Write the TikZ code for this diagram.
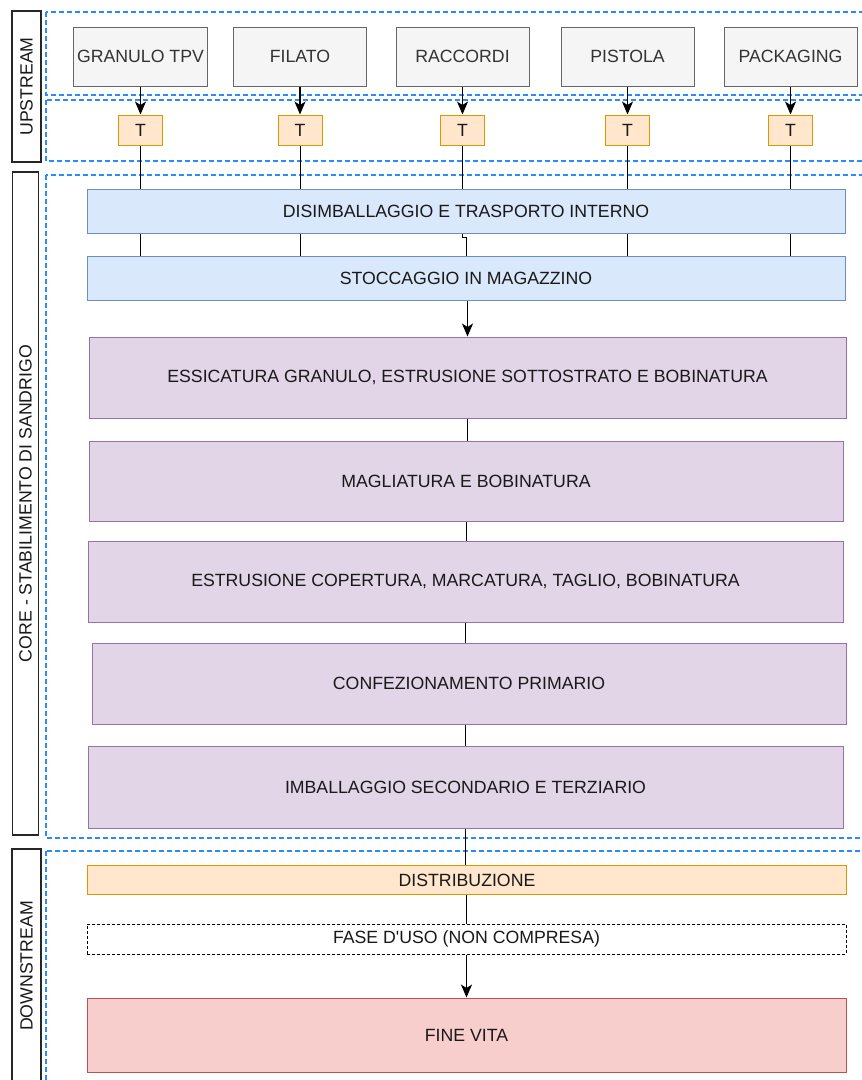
\documentclass[tikz,border=0pt]{standalone}
\usepackage{fontspec}
\setmainfont{Liberation Sans}
\usepackage{tikz}
\usetikzlibrary{arrows.meta,positioning}
\definecolor{bandblue}{RGB}{40,140,255}
\definecolor{srcfill}{HTML}{F5F5F5}
\definecolor{srcdraw}{HTML}{666666}
\definecolor{tfill}{HTML}{FFE6CC}
\definecolor{tdraw}{HTML}{D79B00}
\definecolor{bluefill}{HTML}{DAE8FC}
\definecolor{bluedraw}{HTML}{6C8EBF}
\definecolor{violetfill}{HTML}{E1D5E7}
\definecolor{violetdraw}{HTML}{9673A6}
\definecolor{redfill}{HTML}{F8CECC}
\definecolor{reddraw}{HTML}{B85450}
\tikzset{phase/.style = {draw, text centered, font=\fontsize{17.7}{21}\selectfont, text=black!90, line width=1pt}}
\tikzset{source/.style = {phase, fill=srcfill, draw=srcdraw, minimum width=133, minimum height=59, text=black!80}}
\tikzset{transport/.style = {phase, fill=tfill, draw=tdraw, minimum width=44, minimum height=30}}
\tikzset{stockbox/.style = {phase, fill=bluefill, draw=bluedraw, minimum height=44}}
\tikzset{process/.style = {phase, fill=violetfill, draw=violetdraw}}
\tikzset{lanelabel/.style = {phase, fill=white, draw=black!85, line width=1.5pt, rotate=90}}
\tikzset{band/.style = {draw=bandblue, line width=1.3pt, dash pattern=on 5pt off 3pt}}
\tikzset{arrow/.style={line width=1.1pt,-{Stealth[length=13pt,width=11pt,inset=3.5pt]}}}

\begin{document}
\begin{tikzpicture}[x=1pt,y=-1pt,line width=1pt]
\useasboundingbox (0,0) rectangle (862,1080);
\clip (0,0) rectangle (862,1080);

% lanes
\draw[band] (46,12) rectangle (900,95);
\draw[band] (46,100) rectangle (900,161);
\draw[band] (46,175) rectangle (900,838);
\draw[band] (46,851) rectangle (900,1100);

\node[lanelabel, minimum width=151, minimum height=29] (upstream) at (26.5,86.5) {UPSTREAM};
\node[lanelabel, minimum width=663, minimum height=26] (core) at (25.5,503.5) {CORE - STABILIMENTO DI SANDRIGO};
\node[lanelabel, minimum width=234, minimum height=29] (downstream) at (26.5,966) {DOWNSTREAM};

% upstream
\node[source] (granulo) at (140.5,56.5) {GRANULO TPV};
\node[source] (filato) at (300,56.5) {FILATO};
\node[source] (raccordi) at (462.5,56.5) {RACCORDI};
\node[source] (pistola) at (627.5,56.5) {PISTOLA};
\node[source] (packaging) at (790.5,56.5) {PACKAGING};

\node[transport] (t1) at (140.5,130) {T};
\node[transport] (t2) at (300,130) {T};
\node[transport] (t3) at (462.5,130) {T};
\node[transport] (t4) at (627.5,130) {T};
\node[transport] (t5) at (790.5,130) {T};

% core
\node[stockbox, minimum width=758] (trasporto) at (466,211) {DISIMBALLAGGIO E TRASPORTO INTERNO};
\node[stockbox, minimum width=758] (stoccaggio) at (466,278) {STOCCAGGIO IN MAGAZZINO};

\node[process, minimum width=757, minimum height=81] (essicatura) at (467.5,377.5) {ESSICATURA GRANULO, ESTRUSIONE SOTTOSTRATO E BOBINATURA};
\node[process, minimum width=754, minimum height=80] (magliatura) at (466,481) {MAGLIATURA E BOBINATURA};
\node[process, minimum width=755, minimum height=81] (estrusione) at (465.5,581.5) {ESTRUSIONE COPERTURA, MARCATURA, TAGLIO, BOBINATURA};
\node[process, minimum width=754, minimum height=81] (confezionamento) at (469,683.5) {CONFEZIONAMENTO PRIMARIO};
\node[process, minimum width=755, minimum height=82] (imballaggio) at (465.5,787) {IMBALLAGGIO SECONDARIO E TERZIARIO};

% downstream
\node[phase, fill=tfill, draw=tdraw, minimum width=759, minimum height=29] (distribuzione) at (467,880) {DISTRIBUZIONE};
\node[phase, fill=white, dash pattern=on 3pt off 2pt, minimum width=759, minimum height=30] (uso) at (466.5,939) {FASE D\textquotesingle USO (NON COMPRESA)};
\node[phase, fill=redfill, draw=reddraw, minimum width=759, minimum height=74] (finevita) at (466.5,1035) {FINE VITA};

\draw[arrow] (granulo) -- (t1);
\draw[arrow] (filato) -- (t2);
\draw[arrow] (raccordi) -- (t3);
\draw[arrow] (pistola) -- (t4);
\draw[arrow] (packaging) -- (t5);

\draw (t1) -- (t1 |- trasporto.north);
\draw (t2) -- (t2 |- trasporto.north);
\draw (t3) -- (t3 |- trasporto.north);
\draw (t4) -- (t4 |- trasporto.north);
\draw (t5) -- (t5 |- trasporto.north);

\draw (t1 |- trasporto.south) -- (t1 |- stoccaggio.north);
\draw (t2 |- trasporto.south) -- (t2 |- stoccaggio.north);
\draw (t3 |- trasporto.south) -- ++(0,4) -- ++(4,0) -- ([xshift=4pt]t3 |- stoccaggio.north);
\draw (t4 |- trasporto.south) -- (t4 |- stoccaggio.north);
\draw (t5 |- trasporto.south) -- (t5 |- stoccaggio.north);

\draw[arrow] (stoccaggio.south -| essicatura.north) -- (essicatura.north);
\draw (essicatura.south) -- (essicatura.south |- magliatura.north);
\draw (magliatura.south) -- (magliatura.south |- estrusione.north);
\draw (estrusione.south) -- (estrusione.south |- confezionamento.north);
\draw (imballaggio.north -| estrusione.south) -- (confezionamento.south -| estrusione.south);
\draw (imballaggio.south) -- (imballaggio.south |- distribuzione.north);
\draw (distribuzione.south -| uso.north) -- (uso.north);
\draw[arrow] (uso.south) -- (finevita.north);
\end{tikzpicture}
\end{document}
